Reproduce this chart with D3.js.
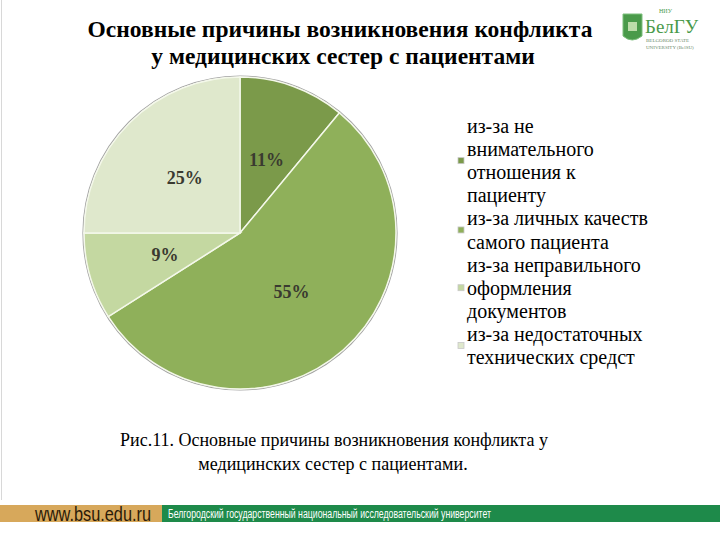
<!DOCTYPE html>
<html><head><meta charset="utf-8">
<script src="https://cdn.jsdelivr.net/npm/d3@7"></script>
<style>body{margin:0;background:#fff}svg{display:block}</style>
</head><body>
<svg id="c" width="720" height="540"></svg>
<script>
const categories = [
  "из-за не внимательного отношения к пациенту",
  "из-за личных качеств самого пациента",
  "из-за неправильного оформления документов",
  "из-за недостаточных технических средст"
];
const legendLines = [
  ["из-за не", "внимательного", "отношения к", "пациенту"],
  ["из-за личных качеств", "самого пациента"],
  ["из-за неправильного", "оформления", "документов"],
  ["из-за недостаточных", "технических средст"]
];
const values = [11, 55, 9, 25];
const valueLabels = ["11%", "55%", "9%", "25%"];
const colors = ["#7b9a4a", "#8fb05a", "#c4d8a1", "#dfe8cc"];
const titleLines = ["Основные причины возникновения конфликта", "у медицинских сестер с пациентами"];
const captionLines = ["Рис.11. Основные причины возникновения конфликта у", "медицинских сестер с пациентами."];

const svg = d3.select("#c");
const serif = "'Liberation Serif', 'DejaVu Serif', 'Times New Roman', serif";
const sans = "'Liberation Sans', Arial, sans-serif";

// left border line
svg.append("line").attr("x1",1.5).attr("x2",1.5).attr("y1",0).attr("y2",500).attr("stroke","#d8d8d8").attr("stroke-width",1);

// title
svg.append("g").selectAll("text").data(titleLines).join("text")
  .attr("x", (d,i)=> i===0 ? 340 : 343).attr("y", (d,i)=>37+i*27).attr("text-anchor","middle")
  .style("font-family", serif).style("font-weight","bold").style("font-size", "23.5px").attr("fill","#000").text(d=>d);

// pie
const cx = 240, cy = 233, R = 156;
const pie = d3.pie().sort(null).value(d=>d);
const arcs = pie(values);
const arc = d3.arc().innerRadius(0).outerRadius(R);
const g = svg.append("g").attr("transform", `translate(${cx},${cy})`);
g.append("circle").attr("r", R+1).attr("fill","none").attr("stroke","#555").attr("stroke-width",1.2).attr("opacity",0.55);
g.selectAll("path").data(arcs).join("path")
  .attr("d", arc).attr("fill",(d,i)=>colors[i]).attr("stroke","#f4f8ea").attr("stroke-width",1.5);
const labelArc = d3.arc().innerRadius(R*0.5).outerRadius(R*0.5);
g.selectAll("text").data(arcs).join("text")
  .attr("transform", d=>{ const c = labelArc.centroid(d); return `translate(${c[0]},${c[1]})`; })
  .attr("text-anchor","middle").attr("dy","0.35em")
  .style("font-family", serif).style("font-weight","bold").style("font-size","18px").attr("fill","#3a3a30")
  .text((d,i)=>valueLabels[i]);

// legend
const lineH = 23.1;
const lg = svg.append("g");
let lineIdx = 0;
legendLines.forEach((lines, i) => {
  const y0 = 127 + lineIdx*lineH;
  lines.forEach((t, j) => {
    lg.append("text").attr("x", 467).attr("y", y0 + j*lineH + 6)
      .style("font-family", serif).style("font-weight","normal").style("font-size", "20px").attr("fill","#000").text(t);
  });
  const mid = y0 + (lines.length-1)*lineH/2;
  lg.append("rect").attr("x", 458).attr("y", mid - 4).attr("width",6).attr("height",6)
    .attr("fill", colors[i]).attr("stroke","#c8c8c8").attr("stroke-width",0.8);
  lineIdx += lines.length;
});

// caption
svg.append("g").selectAll("text").data(captionLines).join("text")
  .attr("x", (d,i)=> i===0 ? 334 : 333).attr("y", (d,i)=>446+i*24).attr("text-anchor","middle")
  .style("font-family", serif).style("font-weight","normal").style("font-size", "18px").attr("fill","#000").text(d=>d);

// footer
svg.append("rect").attr("x",0).attr("y",505).attr("width",162).attr("height",17).attr("fill","#d7a85b");
svg.append("rect").attr("x",162).attr("y",505).attr("width",558).attr("height",17).attr("fill","#1e8a4a");
svg.append("text").attr("x",35).attr("y",521).style("font-family",sans)
  .style("font-size","21px").attr("fill","#2a1a08").attr("textLength",116).attr("lengthAdjust","spacingAndGlyphs").text("www.bsu.edu.ru");
svg.append("text").attr("x",168).attr("y",518).style("font-family",sans)
  .style("font-size","12.5px").attr("fill","#fff").attr("textLength",323).attr("lengthAdjust","spacingAndGlyphs")
  .text("Белгородский государственный национальный исследовательский университет");

// logo
const lgo = svg.append("g");
lgo.append("path").attr("d","M623,14 L642,14 L642,36 Q632,44 623,36 Z").attr("fill","#4a9a4a").attr("stroke","#7cbf7c").attr("stroke-width",1);
lgo.append("rect").attr("x",628).attr("y",22).attr("width",9).attr("height",9).attr("fill","#d8ecc0").attr("opacity",0.8);
lgo.append("text").attr("x",659).attr("y",13).style("font-family",serif).style("font-size","6px").attr("fill","#4a9a4a").text("НИУ");
lgo.append("text").attr("x",645).attr("y",33).style("font-family",serif).style("font-size","19px").attr("fill","#4a9a4a").text("БелГУ");
lgo.append("text").attr("x",646).attr("y",42).style("font-family",serif).style("font-size","5px").attr("fill","#6a8a6a").text("BELGOROD STATE");
lgo.append("text").attr("x",646).attr("y",48.5).style("font-family",serif).style("font-size","5px").attr("fill","#6a8a6a").text("UNIVERSITY (BelSU)");
</script>
</body></html>
